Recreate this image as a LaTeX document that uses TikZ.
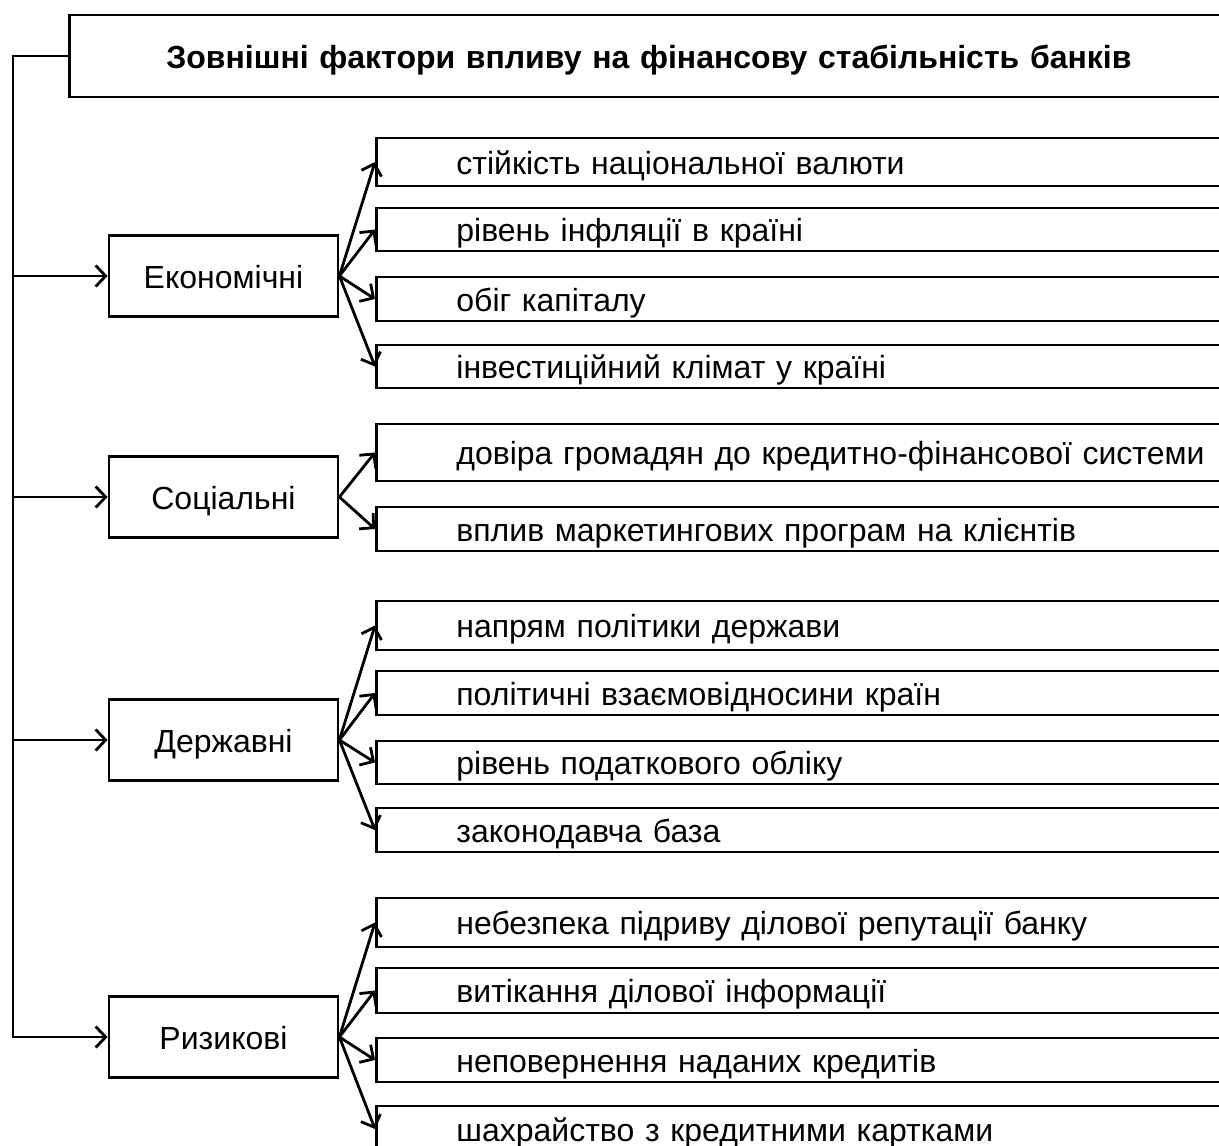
\documentclass[tikz,border=0pt]{standalone}
\usepackage{fontspec}
\setmainfont{Liberation Sans}
\usetikzlibrary{arrows.meta,calc}

\begin{document}
\begin{tikzpicture}[x=1pt,y=-1pt,
  line width=2.8pt,
  every node/.style={font=\fontsize{32}{38}\selectfont, text height=24pt, text depth=0pt},
  titlebox/.style={draw, anchor=west, inner xsep=97pt, inner ysep=0pt,
    minimum height=82pt, text width=1200pt, align=left, font=\fontsize{32}{38}\selectfont\bfseries},
  catbox/.style={draw, minimum width=229pt, minimum height=81pt, inner sep=0pt},
  itembox/.style={draw, anchor=west, inner xsep=80pt, inner ysep=0pt,
    text width=900pt, align=left},
  tip/.style={-{Straight Barb[length=10pt,width=21pt]}}
]
\useasboundingbox (0,0) rectangle (1219,1146);
\clip (0,0) rectangle (1219,1146);

% heading
\node[titlebox] (title) at (68,56) {Зовнішні фактори впливу на фінансову стабільність банків};

% groups of factors
\node[catbox] (econ) at (223.5,276) {Економічні};
\node[catbox] (soc)  at (223.5,497) {Соціальні};
\node[catbox] (gov)  at (223.5,740) {Державні};
\node[catbox] (risk) at (223.5,1037) {Ризикові};

% individual factors
\node[itembox, minimum height=48pt] (e1) at (375,162)   {стійкість національної валюти};
\node[itembox, minimum height=43pt] (e2) at (375,229.5) {рівень інфляції в країні};
\node[itembox, minimum height=44pt] (e3) at (375,299)   {обіг капіталу};
\node[itembox, minimum height=43pt] (e4) at (375,366.5) {інвестиційний клімат у країні};

\node[itembox, minimum height=57pt] (s1) at (375,452.5) {довіра громадян до кредитно-фінансової системи};
\node[itembox, minimum height=44pt] (s2) at (375,529)   {вплив маркетингових програм на клієнтів};

\node[itembox, minimum height=49pt] (g1) at (375,625.5) {напрям політики держави};
\node[itembox, minimum height=44pt] (g2) at (375,693)   {політичні взаємовідносини країн};
\node[itembox, minimum height=43pt] (g3) at (375,762.5) {рівень податкового обліку};
\node[itembox, minimum height=44pt] (g4) at (375,830)   {законодавча база};

\node[itembox, minimum height=49pt] (r1) at (375,922.5) {небезпека підриву ділової репутації банку};
\node[itembox, minimum height=45pt] (r2) at (375,990.5) {витікання ділової інформації};
\node[itembox, minimum height=44pt] (r3) at (375,1060)  {неповернення наданих кредитів};
\node[itembox, minimum height=46pt] (r4) at (375,1129)  {шахрайство з кредитними картками};

% trunk on the left
\coordinate (trunk) at (13,0);
\draw[tip] (title.west) -| (trunk |- risk.west) -- (risk.west);
\draw[tip] (trunk |- econ.west) -- (econ.west);
\draw[tip] (trunk |- soc.west) -- (soc.west);
\draw[tip] (trunk |- gov.west) -- (gov.west);

% fans from each group to its factors
\foreach \c/\list in {econ/{e1,e2,e3,e4}, soc/{s1,s2}, gov/{g1,g2,g3,g4}, risk/{r1,r2,r3,r4}}{
  \foreach \i in \list { \draw[tip] (\c.east) -- (\i.west); }
}
\end{tikzpicture}
\end{document}
